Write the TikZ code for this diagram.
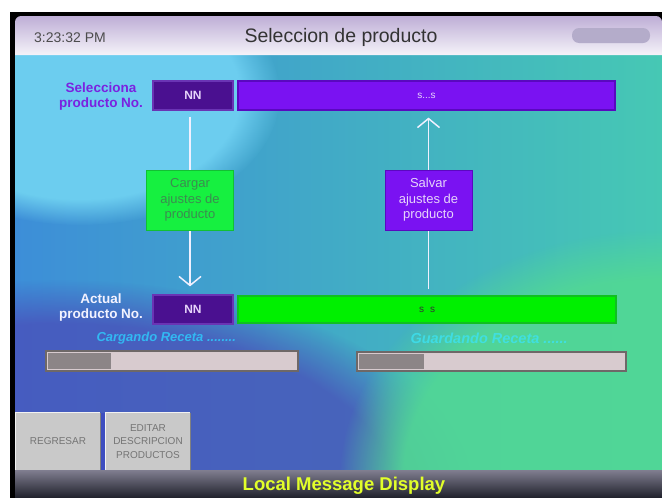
\documentclass[tikz,border=0pt]{standalone}
\usepackage{fontspec}
\setmainfont{Liberation Sans}
\usetikzlibrary{fadings,arrows.meta}

\definecolor{bgL}{HTML}{3D8ED8}
\definecolor{bgM}{HTML}{3FB2D4}
\definecolor{bgR}{HTML}{46C8B4}
\definecolor{bgGlow}{HTML}{6CCDEF}
\definecolor{bgPurple}{HTML}{4A4CB8}
\definecolor{bgGreen}{HTML}{52D894}
\definecolor{bgBlue}{HTML}{4A5CC4}
\definecolor{titleTop}{HTML}{BEAED6}
\definecolor{titleMid}{HTML}{CDC2E0}
\definecolor{titleBot}{HTML}{F5F3F9}
\definecolor{pill}{HTML}{B4ACCA}
\definecolor{nnFill}{HTML}{4A1090}
\definecolor{nnEdge}{HTML}{6A34B4}
\definecolor{violetFill}{HTML}{7A12F2}
\definecolor{violetEdge}{HTML}{5A08C0}
\definecolor{lilacText}{HTML}{E6D4FA}
\definecolor{greenFill}{HTML}{00F000}
\definecolor{greenEdge}{HTML}{10C020}
\definecolor{boxGreen}{HTML}{16F040}
\definecolor{boxGreenText}{HTML}{3C8C50}
\definecolor{labelViolet}{HTML}{7A22E0}
\definecolor{loadBlue}{HTML}{32B8F2}
\definecolor{saveCyan}{HTML}{3CE2F2}
\definecolor{progBack}{HTML}{D8CBCF}
\definecolor{progFill}{HTML}{8C8587}
\definecolor{progEdge}{HTML}{6E6868}
\definecolor{btnFill}{HTML}{C9C9C9}
\definecolor{btnText}{HTML}{747474}
\definecolor{btnStripe}{HTML}{3E4EC0}
\definecolor{barTop}{HTML}{807E90}
\definecolor{barMid}{HTML}{55566A}
\definecolor{barBot}{HTML}{1E202A}
\definecolor{msgYellow}{HTML}{E2FF2A}

\tikzfading[name=vband, left color=transparent!100, middle color=transparent!0, right color=transparent!100]

\tikzset{
  field/.style={draw, line width=1.2pt, inner sep=0pt, minimum height=29pt},
  nnbox/.style={field, fill=nnFill, draw=nnEdge, minimum width=80pt,
    text=lilacText, font=\fontsize{12}{14}\selectfont\bfseries},
  stepbox/.style={draw, line width=0.8pt, inner sep=0pt, minimum width=87pt,
    minimum height=60pt, align=center, font=\fontsize{13}{15.5}\selectfont},
  sidelabel/.style={align=center, font=\fontsize{13.5}{15}\selectfont\bfseries},
  flow/.style={draw=white!94!blue, line width=1.5pt,
    -{Straight Barb[length=9pt,width=22pt,line width=1.5pt]}},
  progress/.style={draw=progEdge, line width=1.5pt, fill=progBack, inner sep=0pt},
  button/.style={fill=btnFill, inner sep=0pt, minimum width=84pt, minimum height=57pt,
    align=center, text=btnText, font=\fontsize{10}{13.5}\selectfont},
  status/.style={anchor=west, font=\fontsize{13}{15}\selectfont\bfseries\itshape},
}

\begin{document}
\begin{tikzpicture}[x=1pt,y=-1pt]
\useasboundingbox (0,0) rectangle (662,498);
\fill[white] (0,0) rectangle (662,498);
\fill[black] (10,12) rectangle (662,498);

% screen background
\begin{scope}
  \clip (15,55) rectangle (662,470);
  \shade[left color=bgL, middle color=bgM, right color=bgR] (15,55) rectangle (662,470);
  \fill[bgGlow, path fading=circle with fuzzy edge 20 percent] (80,95) ellipse (200 and 130);
  \fill[bgPurple, opacity=.75, path fading=circle with fuzzy edge 20 percent] (60,500) ellipse (420 and 220);
  \fill[bgGreen, opacity=.9, path fading=circle with fuzzy edge 20 percent] (660,480) ellipse (320 and 250);
  \fill[bgBlue, opacity=.7, path fading=vband] (628,55) -- (662,55) -- (662,260) -- (610,260) -- cycle;
  \fill[white, opacity=.22, path fading=vband] (150,55) rectangle (205,330);
  \fill[white, opacity=.25, path fading=vband] (290,55) rectangle (335,470);
  \fill[white, opacity=.28, path fading=vband] (462,55) rectangle (525,470);
  \fill[white, opacity=.18, path fading=vband] (520,55) rectangle (560,470);
  \fill[white, opacity=.35, path fading=vband] (598,55) -- (620,55) -- (560,420) -- (540,420) -- cycle;
\end{scope}

% title bar
\shade[top color=titleTop, middle color=titleMid, bottom color=titleBot]
  [rounded corners=6pt] (15,55) -- (15,16) -- (662,16) [sharp corners] -- (662,55) -- cycle;
\fill[pill, rounded corners=7pt] (572,28) rectangle (650,43);
\node[text=black!70, font=\fontsize{14}{16}\selectfont] (clock) at (70,38) {3:23:32 PM};
\node[text=black!80, font=\fontsize{19.5}{21}\selectfont] (title) at (341,37) {Seleccion de producto};

% product number rows
\node[sidelabel, text=labelViolet] (selLbl) at (101,97) {Selecciona\\producto No.};
\node[nnbox] (nnTop) at (193,95.5) {NN};
\node[field, fill=violetFill, draw=violetEdge, minimum width=377pt,
      text=lilacText, font=\fontsize{10}{12}\selectfont] (barTop) at (426.5,95.5) {s...s};

\node[sidelabel, text=white!95!blue] (actLbl) at (101,308) {Actual\\producto No.};
\node[nnbox] (nnBot) at (193,309.5) {NN};
\node[field, fill=greenFill, draw=greenEdge, minimum width=378pt, minimum height=27pt,
      text=black!80, font=\fontsize{10}{12}\selectfont] (barBot) at (427,309.5) {s\hspace{6pt}s};

% load / save actions
\coordinate (loadAxis) at (190,200);
\coordinate (saveAxis) at (428.5,200);
\draw[flow, shorten <=6pt, shorten >=8pt] (loadAxis |- nnTop.south) -- (loadAxis |- nnBot.north);
\draw[flow, shorten <=6pt, shorten >=7pt] (saveAxis |- barBot.north) -- (saveAxis |- barTop.south);
\node[stepbox, fill=boxGreen, draw=boxGreen!80!black, text=boxGreenText] (cargar) at (loadAxis)
  {Cargar\\ajustes de\\producto};
\node[stepbox, fill=violetFill, draw=violetEdge, text=lilacText] (salvar) at (saveAxis)
  {Salvar\\ajustes de\\producto};

% status texts and progress bars
\node[status, text=loadBlue] (loadMsg) at (93,338) {Cargando Receta ........};
\node[status, text=saveCyan, opacity=.8, font=\fontsize{14.5}{16}\selectfont\bfseries\itshape]
  (saveMsg) at (407,338) {Guardando Receta ......};

\node[progress, minimum width=252pt, minimum height=20pt] (progL) at (172,361) {};
\fill[progFill] ([shift={(2.5,2.5)}]progL.north west) rectangle ([shift={(66,-2.5)}]progL.south west);
\node[progress, minimum width=269pt, minimum height=19pt] (progR) at (491.5,361.5) {};
\fill[progFill] ([shift={(2.5,2.5)}]progR.north west) rectangle ([shift={(68,-2.5)}]progR.south west);

% buttons
\fill[btnStripe] (100,413) rectangle (106,470);
\node[button] (regresar) at (58,441.5) {REGRESAR};
\node[button] (editar) at (148,441.5) {EDITAR\\DESCRIPCION\\PRODUCTOS};
\foreach \b in {regresar,editar}{
  \draw[white!90!gray, line width=1pt] (\b.south west) -- (\b.north west) -- (\b.north east);
  \draw[gray, line width=1pt] (\b.north east) -- (\b.south east) -- (\b.south west);
}

% message bar
\shade[top color=barTop, middle color=barMid, bottom color=barBot] (15,470) rectangle (662,498);
\node[text=msgYellow, font=\fontsize{18.5}{20}\selectfont\bfseries] (msg) at (344,486) {Local Message Display};
\end{tikzpicture}
\end{document}
